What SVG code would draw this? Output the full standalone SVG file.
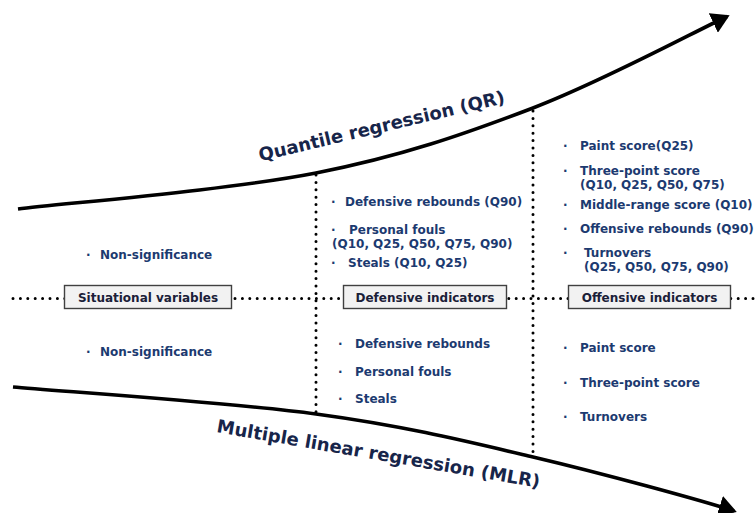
<svg xmlns="http://www.w3.org/2000/svg" width="755" height="513" viewBox="0 0 755 513">
<style>
.t{font-family:"DejaVu Sans",Verdana,sans-serif;font-weight:bold;font-size:12px;fill:#1c3a70}
.b{font-family:"DejaVu Sans",Verdana,sans-serif;font-weight:bold;font-size:12px;fill:#1a2038}
.title{font-family:"DejaVu Sans",Verdana,sans-serif;font-weight:bold;font-size:18px;fill:#17254a}
.box{fill:#f2f2f2;stroke:#404040;stroke-width:1.4}
.curve{fill:none;stroke:#000;stroke-width:3.6}
.dot{fill:none;stroke:#000;stroke-width:3;stroke-linecap:round;stroke-dasharray:0 7.4}
</style>
<defs>
<marker id="ah" markerWidth="6" markerHeight="6" refX="4.2" refY="3" orient="auto" markerUnits="strokeWidth">
<path d="M0,0 L5,3 L0,6 z" fill="#000"/>
</marker>
</defs>
<rect width="755" height="513" fill="#fff"/>
<g id="connectors">
<path class="dot" d="M13,298.5 H755"/>
<path class="dot" d="M316,175 V414"/>
<path class="dot" d="M533,111 V456"/>
<path class="curve" marker-end="url(#ah)" d="M18,209 C67.7,203 230.2,189.8 316,173 C401.8,156.2 464,134.3 533,108 C602,81.7 694,32 727,16.5"/>
<path class="curve" marker-end="url(#ah)" d="M13,387 C63.5,391.5 229.3,402.3 316,414 C402.7,425.7 463.2,440.5 533,457 C602.8,473.5 700,500 734,511"/>
</g>
<g id="qr-title"><text class="title" text-anchor="middle" transform="translate(383,132) rotate(-13.4)">Quantile regression (QR)</text></g>
<g id="mlr-title"><text class="title" text-anchor="middle" transform="translate(377.5,460) rotate(9.8)">Multiple linear regression (MLR)</text></g>
<g id="situational-variables">
<rect class="box" x="64.5" y="285.5" width="167" height="23"/>
<text class="b" x="148" y="302" text-anchor="middle">Situational variables</text>
</g>
<g id="defensive-indicators">
<rect class="box" x="343.5" y="285.5" width="163" height="23"/>
<text class="b" x="425" y="302" text-anchor="middle">Defensive indicators</text>
</g>
<g id="offensive-indicators">
<rect class="box" x="568.5" y="285.5" width="162" height="23"/>
<text class="b" x="649.5" y="302" text-anchor="middle">Offensive indicators</text>
</g>
<g id="situational-qr">
<text class="t" x="86" y="259">·</text><text class="t" x="100" y="259">Non-significance</text>
</g>
<g id="situational-mlr">
<text class="t" x="86" y="356">·</text><text class="t" x="100" y="356">Non-significance</text>
</g>
<g id="defensive-qr">
<text class="t" x="331" y="206">·</text><text class="t" x="345" y="206">Defensive rebounds (Q90)</text>
<text class="t" x="331" y="234">·</text><text class="t" x="349" y="234">Personal fouls</text>
<text class="t" x="332" y="248">(Q10, Q25, Q50, Q75, Q90)</text>
<text class="t" x="331" y="267">·</text><text class="t" x="348" y="267">Steals (Q10, Q25)</text>
</g>
<g id="defensive-mlr">
<text class="t" x="338" y="348">·</text><text class="t" x="355" y="348">Defensive rebounds</text>
<text class="t" x="338" y="376">·</text><text class="t" x="355" y="376">Personal fouls</text>
<text class="t" x="338" y="403">·</text><text class="t" x="355" y="403">Steals</text>
</g>
<g id="offensive-qr">
<text class="t" x="563" y="150">·</text><text class="t" x="580" y="150">Paint score(Q25)</text>
<text class="t" x="563" y="175">·</text><text class="t" x="580" y="175">Three-point score</text>
<text class="t" x="580" y="189">(Q10, Q25, Q50, Q75)</text>
<text class="t" x="563" y="209">·</text><text class="t" x="580" y="209">Middle-range score (Q10)</text>
<text class="t" x="563" y="233">·</text><text class="t" x="580" y="233">Offensive rebounds (Q90)</text>
<text class="t" x="563" y="257">·</text><text class="t" x="584" y="257">Turnovers</text>
<text class="t" x="584" y="271">(Q25, Q50, Q75, Q90)</text>
</g>
<g id="offensive-mlr">
<text class="t" x="563" y="352">·</text><text class="t" x="580" y="352">Paint score</text>
<text class="t" x="563" y="387">·</text><text class="t" x="580" y="387">Three-point score</text>
<text class="t" x="563" y="421">·</text><text class="t" x="580" y="421">Turnovers</text>
</g>
</svg>
